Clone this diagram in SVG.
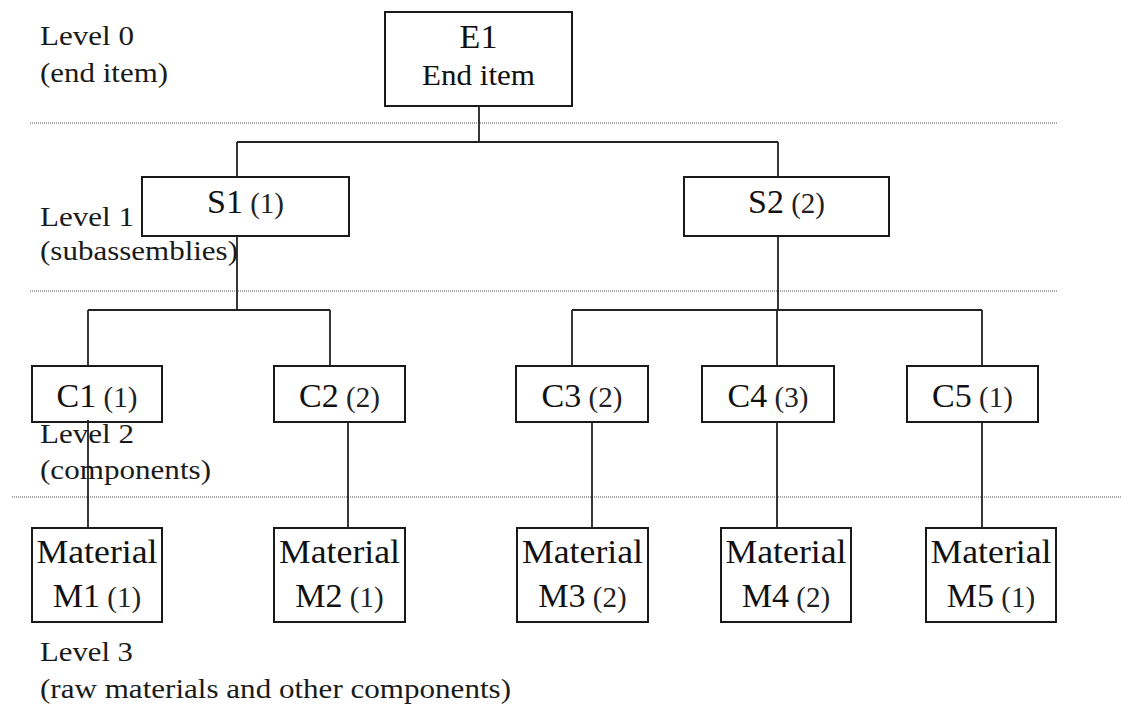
<svg xmlns="http://www.w3.org/2000/svg" width="1122" height="715" viewBox="0 0 1122 715">
<style>
  .bg{fill:#ffffff}
  .box{fill:#ffffff;stroke:#1a1a1a;stroke-width:2}
  .dot{stroke:#8a8a8a;stroke-width:1.6;stroke-dasharray:1 1;fill:none}
  .con{stroke:#222222;stroke-width:1.8;fill:none}
  text{font-family:'Liberation Serif','Times New Roman',Times,serif}
  .lbl{font-size:28px;fill:#1a1a1a}
  .nm{font-size:34px;fill:#111111}
  .qty{font-size:29px;fill:#222222}
</style>
<rect class="bg" x="0" y="0" width="1122" height="715"/>
<g id="levels" font-family="Liberation Serif, serif">
  <line class="dot" x1="30" y1="123" x2="1057" y2="123"/>
  <line class="dot" x1="30" y1="291" x2="1057" y2="291"/>
  <line class="dot" x1="12" y1="497" x2="1122" y2="497"/>
  <text class="lbl" x="40" y="45" textLength="94" lengthAdjust="spacingAndGlyphs">Level 0</text>
  <text class="lbl" x="40" y="82" textLength="128" lengthAdjust="spacingAndGlyphs">(end item)</text>
  <text class="lbl" x="40" y="226" textLength="94" lengthAdjust="spacingAndGlyphs">Level 1</text>
  <text class="lbl" x="40" y="260" textLength="198" lengthAdjust="spacingAndGlyphs">(subassemblies)</text>
  <text class="lbl" x="40" y="443" textLength="94" lengthAdjust="spacingAndGlyphs">Level 2</text>
  <text class="lbl" x="40" y="479" textLength="171" lengthAdjust="spacingAndGlyphs">(components)</text>
  <text class="lbl" x="40" y="661" textLength="93" lengthAdjust="spacingAndGlyphs">Level 3</text>
  <text class="lbl" x="40" y="698" textLength="471" lengthAdjust="spacingAndGlyphs">(raw materials and other components)</text>
</g>
<g id="E1">
  <rect class="box" x="385" y="12" width="187" height="94"/>
  <text class="nm" x="478.5" y="48" text-anchor="middle">E1</text>
  <text class="nm" x="478.5" y="85" text-anchor="middle" style="font-size:30px" textLength="113" lengthAdjust="spacingAndGlyphs">End item</text>
</g>
<g id="S1">
  <rect class="box" x="142" y="177" width="207" height="59"/>
  <text x="245.5" y="213" text-anchor="middle"><tspan class="nm">S1</tspan><tspan class="qty"> (1)</tspan></text>
</g>
<g id="S2">
  <rect class="box" x="684" y="177" width="205" height="59"/>
  <text x="786.5" y="213" text-anchor="middle"><tspan class="nm">S2</tspan><tspan class="qty"> (2)</tspan></text>
</g>
<g id="C1">
  <rect class="box" x="32" y="366" width="130" height="56"/>
  <text x="97" y="407" text-anchor="middle"><tspan class="nm">C1</tspan><tspan class="qty"> (1)</tspan></text>
</g>
<g id="C2">
  <rect class="box" x="274" y="366" width="131" height="56"/>
  <text x="339.5" y="407" text-anchor="middle"><tspan class="nm">C2</tspan><tspan class="qty"> (2)</tspan></text>
</g>
<g id="C3">
  <rect class="box" x="516" y="366" width="132" height="56"/>
  <text x="582" y="407" text-anchor="middle"><tspan class="nm">C3</tspan><tspan class="qty"> (2)</tspan></text>
</g>
<g id="C4">
  <rect class="box" x="702" y="366" width="132" height="56"/>
  <text x="768" y="407" text-anchor="middle"><tspan class="nm">C4</tspan><tspan class="qty"> (3)</tspan></text>
</g>
<g id="C5">
  <rect class="box" x="907" y="366" width="131" height="56"/>
  <text x="972.5" y="407" text-anchor="middle"><tspan class="nm">C5</tspan><tspan class="qty"> (1)</tspan></text>
</g>
<g id="M1">
  <rect class="box" x="32" y="528" width="130" height="94"/>
  <text class="nm" x="97" y="563" text-anchor="middle" textLength="121" lengthAdjust="spacingAndGlyphs">Material</text>
  <text x="97" y="607" text-anchor="middle"><tspan class="nm">M1</tspan><tspan class="qty"> (1)</tspan></text>
</g>
<g id="M2">
  <rect class="box" x="274" y="528" width="131" height="94"/>
  <text class="nm" x="339.5" y="563" text-anchor="middle" textLength="121" lengthAdjust="spacingAndGlyphs">Material</text>
  <text x="339.5" y="607" text-anchor="middle"><tspan class="nm">M2</tspan><tspan class="qty"> (1)</tspan></text>
</g>
<g id="M3">
  <rect class="box" x="517" y="528" width="131" height="94"/>
  <text class="nm" x="582.5" y="563" text-anchor="middle" textLength="121" lengthAdjust="spacingAndGlyphs">Material</text>
  <text x="582.5" y="607" text-anchor="middle"><tspan class="nm">M3</tspan><tspan class="qty"> (2)</tspan></text>
</g>
<g id="M4">
  <rect class="box" x="721" y="528" width="130" height="94"/>
  <text class="nm" x="786" y="563" text-anchor="middle" textLength="121" lengthAdjust="spacingAndGlyphs">Material</text>
  <text x="786" y="607" text-anchor="middle"><tspan class="nm">M4</tspan><tspan class="qty"> (2)</tspan></text>
</g>
<g id="M5">
  <rect class="box" x="926" y="528" width="130" height="94"/>
  <text class="nm" x="991" y="563" text-anchor="middle" textLength="121" lengthAdjust="spacingAndGlyphs">Material</text>
  <text x="991" y="607" text-anchor="middle"><tspan class="nm">M5</tspan><tspan class="qty"> (1)</tspan></text>
</g>
<g id="connectors">
  <path class="con" d="M479 106 V142 M237 142 H778 M237 142 V177 M778 142 V177"/>
  <path class="con" d="M237 236 V310 M88 310 H330 M88 310 V366 M330 310 V366"/>
  <path class="con" d="M778 236 V310 M572 310 H982 M572 310 V366 M777 310 V366 M982 310 V366"/>
  <path class="con" d="M88 420 V528 M348 422 V528 M592 422 V528 M777 422 V528 M982 422 V528"/>
</g>
</svg>
